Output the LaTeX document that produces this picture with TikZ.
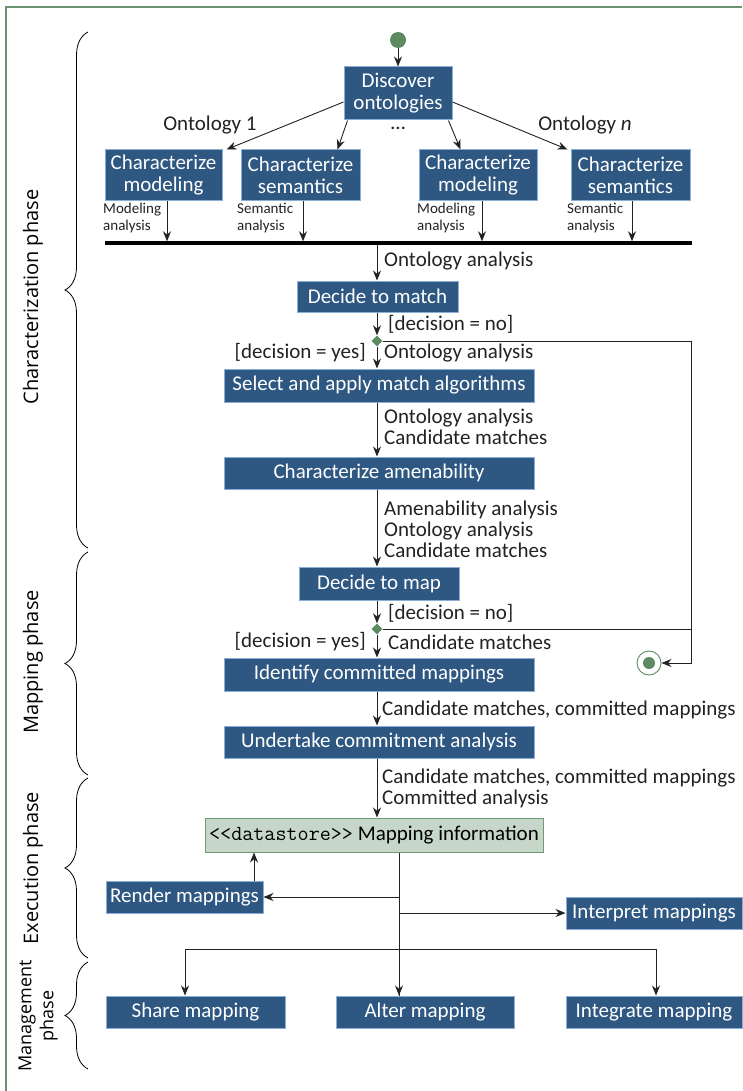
\documentclass[tikz,border=0pt]{standalone}
\usepackage{fontspec}
\setmainfont{Carlito}
\newfontfamily\phasefont{Open Sans}
\usetikzlibrary{arrows.meta,shapes.geometric,decorations.pathreplacing}
\definecolor{boxblue}{HTML}{2E5781}
\definecolor{boxedge}{HTML}{8AAED6}
\definecolor{dsfill}{HTML}{C6D6C9}
\definecolor{dsedge}{HTML}{6E9A74}
\definecolor{umlgreen}{HTML}{5B8A63}
\definecolor{framegreen}{HTML}{6A9270}
\definecolor{linegray}{HTML}{222222}
\tikzset{
  box/.style={draw=boxedge, line width=1pt, fill=boxblue, text=white, inner sep=0pt,
    align=center, font=\fontsize{21}{22}\selectfont, minimum height=32pt},
  lbl/.style={inner sep=0pt, align=left, font=\fontsize{21}{21}\selectfont, text=linegray},
  small/.style={inner sep=0pt, align=left, font=\fontsize{15}{17}\selectfont, text=linegray},
  arr/.style={draw=linegray, line width=0.9pt, -{Stealth[length=10pt,width=8pt]}},
  ln/.style={draw=linegray, line width=0.9pt},
  phase/.style={rotate=90, inner sep=0pt, align=center, font=\phasefont\fontsize{20}{22}\selectfont},
  brc/.style={draw=black, line width=0.8pt, decorate, decoration={brace, amplitude=23pt}},
  dia/.style={diamond, fill=umlgreen, inner sep=0pt, minimum size=11pt},
}
\begin{document}
\begin{tikzpicture}[x=1pt, y=-1pt]
\useasboundingbox (0,0) rectangle (742,1091);
% frame
\draw[framegreen, line width=2pt] (742,7) -- (6,7) -- (6,1091);

% phase braces and labels
\draw[brc] (88,548) -- (88,32);
\draw[brc] (88,775) -- (88,552);
\draw[brc] (88,958) -- (88,778);
\draw[brc] (88,1069) -- (88,962);
\node[phase] (pc) at (33,297) {Characterization phase};
\node[phase] (pm) at (33,662) {Mapping phase};
\node[phase] (pe) at (33,868) {Execution phase};
\node[phase, font=\phasefont\fontsize{18}{22}\selectfont] (pg) at (38,1016) {Management\\phase};

% axes
\coordinate (ax) at (377,0);
\coordinate (ax2) at (399,0);

% nodes
\node[circle, fill=umlgreen, inner sep=0pt, minimum size=16pt] (start) at (398,40) {};
\node[box, minimum width=108pt, minimum height=53pt] (disc) at (398,93.5) {Discover\\ontologies};
\node[box, minimum width=117pt, minimum height=51pt] (cm1) at (163.5,175.5) {Characterize\\modeling};
\node[box, minimum width=119pt, minimum height=51pt] (cs1) at (300.5,175.5) {Characterize\\semantics};
\node[box, minimum width=118pt, minimum height=51pt] (cm2) at (478,175.5) {Characterize\\modeling};
\node[box, minimum width=119pt, minimum height=51pt] (cs2) at (630.5,175.5) {Characterize\\semantics};
\node[fill=black, inner sep=0pt, minimum width=587pt, minimum height=3pt] (bar) at (398.5,243) {};

\node[box, minimum width=161pt, minimum height=31pt] (dmatch) at (377.5,296.5) {Decide to match};
\node[dia] (d1) at (377,341) {};
\node[box, minimum width=310pt, minimum height=33pt] (sel) at (379,385.5) {Select and apply match algorithms};
\node[box, minimum width=310pt] (amen) at (379,473) {Characterize amenability};
\node[box, minimum width=160pt, minimum height=33pt] (dmap) at (379,583.5) {Decide to map};
\node[dia] (d2) at (377,629) {};
\node[box, minimum width=310pt, minimum height=33pt] (ident) at (379,674.5) {Identify committed mappings};
\node[box, minimum width=310pt] (under) at (379,742) {Undertake commitment analysis};
\node[draw=dsedge, line width=1pt, fill=dsfill, inner sep=0pt, minimum width=338pt, minimum height=34pt,
      font=\fontsize{21}{22}\selectfont] (ds) at (374,835)
      {{\ttfamily\fontsize{21.5}{22}\selectfont <{}<datastore>{}>} Mapping information};
\node[box, minimum width=157pt] (render) at (184.5,897) {Render mappings};
\node[box, minimum width=176pt] (interp) at (654,913) {Interpret mappings};
\node[box, minimum width=179pt] (share) at (195.5,1012) {Share mapping};
\node[box, minimum width=178pt] (alter) at (425,1012) {Alter mapping};
\node[box, minimum width=176pt] (integ) at (654,1012) {Integrate mapping};

% final node
\node[circle, draw=umlgreen, fill=white, line width=0.9pt, inner sep=0pt, minimum size=24pt] (fin) at (649,663) {};
\node[circle, fill=umlgreen, inner sep=0pt, minimum size=12pt] (finin) at (fin.center) {};

% labels
\node[lbl] (o1) at (210,125) {Ontology 1};
\node[lbl] (dots) at (398,128) {\dots};
\node[lbl] (on) at (585,125) {Ontology \textit{n}};
\node[small, anchor=north west] (l1) at (103,203) {Modeling\\analysis};
\node[small, anchor=north west] (l2) at (237,203) {Semantic\\analysis};
\node[small, anchor=north west] (l3) at (417,203) {Modeling\\analysis};
\node[small, anchor=north west] (l4) at (567,203) {Semantic\\analysis};
\node[lbl, anchor=west] (t1) at (384,261) {Ontology analysis};
\node[lbl, anchor=west] (t2) at (388,324) {[decision = no]};
\node[lbl, anchor=east] (t3) at (366,353) {[decision = yes]};
\node[lbl, anchor=west] (t4) at (384,353) {Ontology analysis};
\node[lbl, anchor=west] (t5) at (384,427) {Ontology analysis\\Candidate matches};
\node[lbl, anchor=west] (t6) at (384,529) {Amenability analysis\\Ontology analysis\\Candidate matches};
\node[lbl, anchor=west] (t7) at (388,613) {[decision = no]};
\node[lbl, anchor=east] (t8) at (366,642) {[decision = yes]};
\node[lbl, anchor=west] (t9) at (388,642) {Candidate matches};
\node[lbl, anchor=west] (t10) at (382,710) {Candidate matches, committed mappings};
\node[lbl, anchor=west] (t11) at (382,788) {Candidate matches, committed mappings\\Committed analysis};

% connectors: top
\draw[arr] (start) -- (disc.north);
\draw[arr] ([yshift=-8.5pt]disc.west) -- ([xshift=4pt]cm1.north east);
\draw[arr] ([xshift=4pt]disc.south west) -- ([xshift=-23pt]cs1.north east);
\draw[arr] ([xshift=-4pt]disc.south east) -- ([xshift=42pt]cm2.north west);
\draw[arr] ([yshift=-8.5pt]disc.east) -- ([xshift=-3pt]cs2.north west);
\draw[arr] ([xshift=3.5pt]cm1.south) -- ([xshift=3.5pt]cm1.south |- bar.north);
\draw[arr] ([xshift=2.5pt]cs1.south) -- ([xshift=2.5pt]cs1.south |- bar.north);
\draw[arr] ([xshift=4pt]cm2.south) -- ([xshift=4pt]cm2.south |- bar.north);
\draw[arr] ([xshift=1.5pt]cs2.south) -- ([xshift=1.5pt]cs2.south |- bar.north);

% main flow
\draw[arr] (bar.south -| ax) -- (dmatch.north -| ax);
\draw[arr] (dmatch.south -| ax) -- (d1.north);
\draw[arr] (d1.south) -- (sel.north -| ax);
\draw[arr] (sel.south -| ax) -- (amen.north -| ax);
\draw[arr] (amen.south -| ax) -- (dmap.north -| ax);
\draw[arr] (dmap.south -| ax) -- (d2.north);
\draw[arr] (d2.south) -- (ident.north -| ax);
\draw[arr] (ident.south -| ax) -- (under.north -| ax);
\draw[arr] (under.south -| ax) -- (ds.north -| ax);

% decision = no branches
\coordinate (rc) at (691,341);
\draw[arr] (d1.east) -- (rc) |- (fin.east);
\draw[ln] (d2.east) -- (d2.east -| rc);

% execution and management
\draw[ln] (ds.south -| ax2) -- (alter.north -| ax2);
\draw[arr] (render.east -| ax2) -- (render.east);
\draw[arr] ([xshift=69.5pt]render.north) -- ([xshift=69.5pt]render.north |- ds.south);
\draw[arr] (interp.west -| ax2) -- (interp.west);
\coordinate (br) at (399,949);
\draw[arr] (br) -| ([xshift=-10.5pt]share.north);
\draw[arr] (br) -| ([xshift=2pt]integ.north);
\draw[arr] (br) -- (alter.north -| ax2);
\end{tikzpicture}
\end{document}
